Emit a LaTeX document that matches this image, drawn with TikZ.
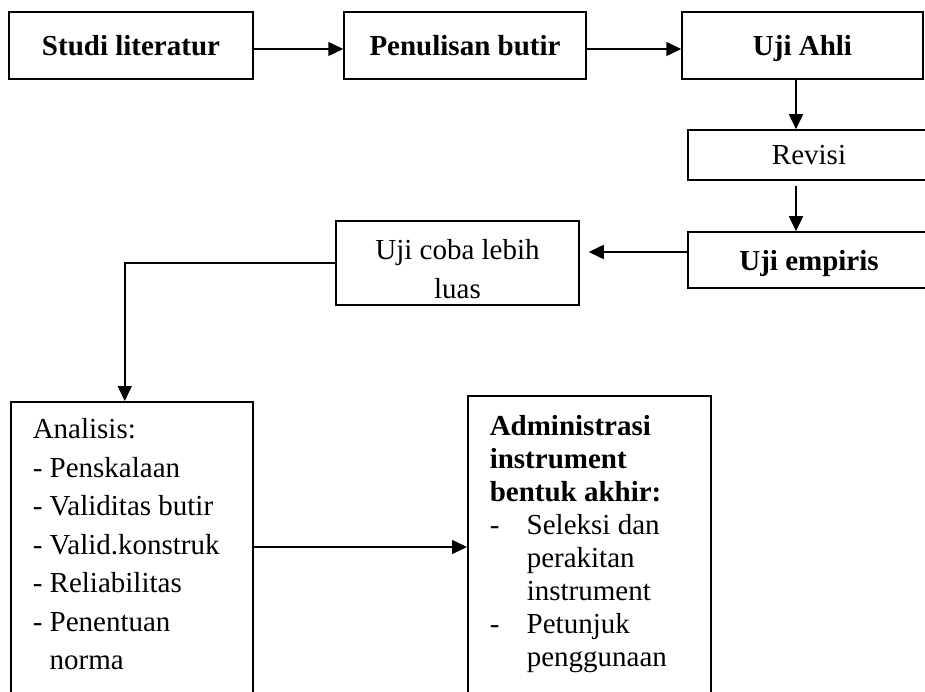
\documentclass[tikz,border=0pt]{standalone}
\usepackage{fontspec}
\setmainfont{Liberation Serif}
\usetikzlibrary{arrows.meta}

\begin{document}
\begin{tikzpicture}[x=1pt,y=-1pt,
  kotak/.style={draw,line width=1.5pt,inner sep=0pt},
  tebal/.style={font=\bfseries,text depth=0pt},
  panah/.style={line width=1.5pt,-{Triangle[length=15pt,width=14pt]}}]

\fontsize{29}{38.5}\selectfont
\clip (0,0) rectangle (925,692);

\node[kotak,tebal,minimum width=244pt,minimum height=67pt] (studi) at (131,45.5) {Studi literatur};
\node[kotak,tebal,minimum width=242pt,minimum height=67pt] (penulisan) at (465,45.5) {Penulisan butir};
\node[kotak,tebal,minimum width=241pt,minimum height=67pt] (ahli) at (802.5,45.5) {Uji Ahli};
\node[kotak,minimum width=242pt,minimum height=50pt] (revisi) at (809,155) {Revisi};
\node[kotak,tebal,minimum width=242pt,minimum height=56pt] (empiris) at (809,260) {Uji empiris};
\node[kotak,minimum width=243pt,minimum height=84pt,align=center] (ujicoba) at (457.5,263) {\rule{0pt}{32pt}Uji coba lebih\\luas};

\node[kotak,anchor=north west,inner xsep=22pt,inner ysep=17pt] (analisis) at (10,401)
  {\parbox[t][300pt][t]{198pt}{\raggedright
  Analisis:\\
  - Penskalaan\\
  - Validitas butir\\
  - Valid.konstruk\\
  - Reliabilitas\\
  - Penentuan\\
  \phantom{- }norma}};

\node[kotak,anchor=north west,inner xsep=22pt,inner ysep=20pt] (admin) at (467,395)
  {\parbox[t][300pt][t]{199pt}{\raggedright\fontsize{29}{33}\selectfont
  \textbf{Administrasi\\instrument\\bentuk akhir:}\\
  \makebox[37pt][l]{-}Seleksi dan\\
  \hspace*{37pt}perakitan\\
  \hspace*{37pt}instrument\\
  \makebox[37pt][l]{-}Petunjuk\\
  \hspace*{37pt}penggunaan}};

\draw[panah] ([yshift=-3.5pt]studi.east) -- ([yshift=-3.5pt]penulisan.west);
\draw[panah] ([yshift=-3.5pt]penulisan.east) -- ([yshift=-3.5pt]ahli.west);
\draw[panah] ([xshift=-6.5pt]ahli.south) -- ([xshift=-6.5pt]ahli.south |- revisi.north);
\draw[panah] ([xshift=-13pt,yshift=-5pt]revisi.south) -- ([xshift=-13pt]empiris.north);
\draw[panah,shorten >=9pt] ([yshift=8pt]empiris.west) -- ([yshift=8pt]empiris.west -| ujicoba.east);
\draw[panah] (ujicoba.west) -| ([xshift=-7pt]analisis.north);
\draw[panah] ([yshift=-146pt]analisis.north east) -- ([yshift=-146pt]analisis.north east -| admin.west);
\end{tikzpicture}
\end{document}
